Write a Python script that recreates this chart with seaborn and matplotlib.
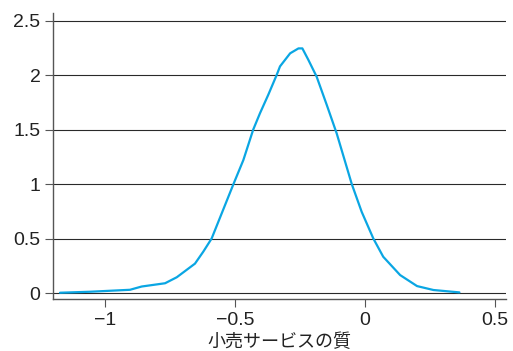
import matplotlib
matplotlib.use("Agg")
import matplotlib.pyplot as plt
import seaborn as sns
import pandas as pd

# 密度曲線
quality = [-1.173, -1.058, -0.904, -0.859, -0.769, -0.724, -0.654, -0.622, -0.59,
           -0.506, -0.468, -0.43, -0.404, -0.372, -0.34, -0.327, -0.288, -0.256,
           -0.241, -0.218, -0.186, -0.147, -0.109, -0.051, -0.013, 0.032, 0.07,
           0.135, 0.2, 0.263, 0.363]
density = [0.003, 0.012, 0.03, 0.06, 0.09, 0.145, 0.27, 0.38, 0.5,
           1.0, 1.22, 1.5, 1.65, 1.82, 2.0, 2.08, 2.2, 2.245,
           2.245, 2.14, 1.985, 1.725, 1.465, 1.0, 0.746, 0.5, 0.333,
           0.165, 0.064, 0.028, 0.006]

yticks = [0, 0.5, 1, 1.5, 2, 2.5]
ytick_labels = ["0", "0.5", "1", "1.5", "2", "2.5"]
xticks = [-1, -0.5, 0, 0.5]
xtick_labels = ["\u22121", "\u22120.5", "0", "0.5"]
xlabel = "小売サービスの質"

df = pd.DataFrame({"x": quality, "y": density})

sns.set_style("white")
plt.rcParams["font.family"] = ["Liberation Sans", "Noto Sans CJK JP", "DejaVu Sans"]

fig = plt.figure(figsize=(5.13, 3.51), dpi=100)
ax = fig.add_axes([0.1033, 0.148, 0.883, 0.815])

for t in yticks:
    ax.axhline(t, color="#2a2a2a", lw=0.8, zorder=1)

sns.lineplot(data=df, x="x", y="y", color="#0aa6e3", lw=1.6, ax=ax, zorder=3)

ax.set_xlim(-1.2, 0.542)
ax.set_ylim(-0.055, 2.57)
ax.set_xticks(xticks)
ax.set_xticklabels(xtick_labels, fontsize=14, color="#222222")
ax.set_yticks(yticks)
ax.set_yticklabels(ytick_labels, fontsize=14, color="#222222")
ax.tick_params(axis="both", direction="out", length=6, width=0.8, color="#555555",
               bottom=True, left=True, pad=3)
ax.set_xlabel(xlabel, fontsize=13, family=["Noto Sans CJK JP", "DejaVu Sans"],
              color="#222222", labelpad=3)
ax.set_ylabel("")

for side in ["top", "right"]:
    ax.spines[side].set_visible(False)
for side in ["left", "bottom"]:
    ax.spines[side].set_color("#555555")
    ax.spines[side].set_linewidth(1.0)

fig.savefig("out.png", dpi=100)
